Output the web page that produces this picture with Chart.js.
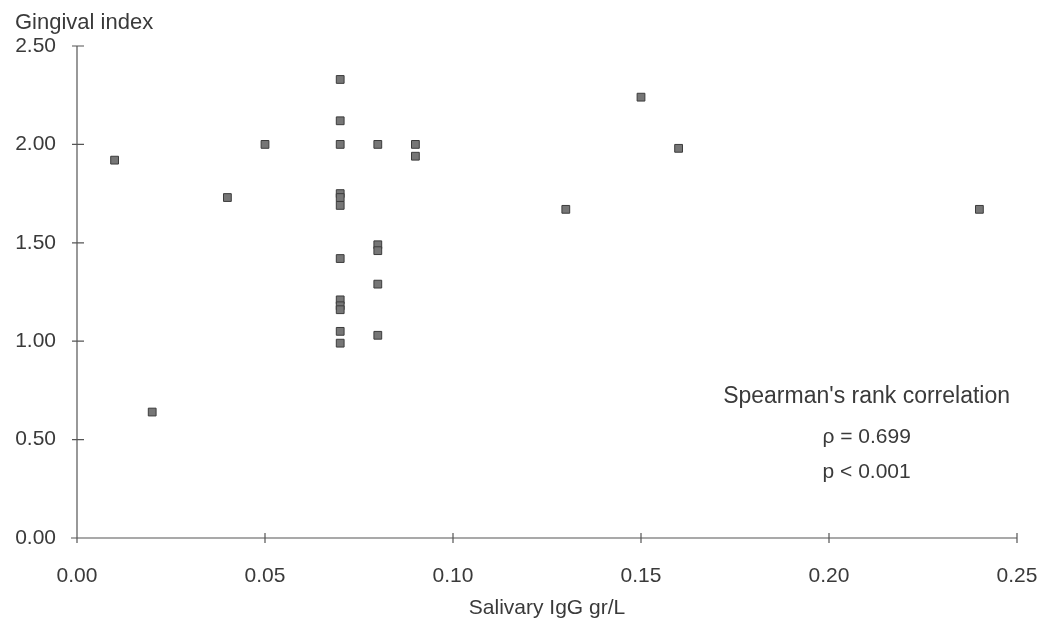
<!DOCTYPE html>
<html>
<head>
<meta charset="utf-8">
<script src="https://cdn.jsdelivr.net/npm/chart.js@4"></script>
<style>
  html, body { margin: 0; padding: 0; background: #fff; }
  #wrap { width: 1043px; height: 629px; }
</style>
</head>
<body>
<div id="wrap"><canvas id="scatterChart"></canvas></div>
<script>
// data
const igg = [0.01, 0.02, 0.04, 0.05,
    0.07, 0.07, 0.07, 0.07, 0.07, 0.07, 0.07, 0.07, 0.07, 0.07, 0.07, 0.07,
    0.08, 0.08, 0.08, 0.08, 0.08,
    0.09, 0.09, 0.13, 0.15, 0.16, 0.24];
const gingival = [1.92, 0.64, 1.73, 2.00,
    2.33, 2.12, 2.00, 1.75, 1.73, 1.69, 1.42, 1.21, 1.18, 1.16, 1.05, 0.99,
    2.00, 1.49, 1.46, 1.29, 1.03,
    2.00, 1.94, 1.67, 2.24, 1.98, 1.67];
const xTicks = ['0.00', '0.05', '0.10', '0.15', '0.20', '0.25'];
const yTicks = ['0.00', '0.50', '1.00', '1.50', '2.00', '2.50'];
const statLines = ["Spearman's rank correlation", 'ρ = 0.699', 'p < 0.001'];

const FONT = "'Liberation Sans', Arial, sans-serif";
const INK = '#3a3a3a';

// axis lines with ticks crossing them, like the original plot
const axesPlugin = {
    id: 'axesPlugin',
    afterDraw(chart) {
        const ctx = chart.ctx;
        const xs = chart.scales.x, ys = chart.scales.y;
        const area = chart.chartArea;
        ctx.save();
        ctx.strokeStyle = '#555';
        ctx.lineWidth = 1.2;
        ctx.beginPath();
        ctx.moveTo(area.left - 6, area.bottom);
        ctx.lineTo(area.right, area.bottom);
        ctx.moveTo(area.left, area.bottom);
        ctx.lineTo(area.left, area.top);
        xs.ticks.forEach(t => {
            const px = xs.getPixelForValue(t.value);
            ctx.moveTo(px, area.bottom - 5);
            ctx.lineTo(px, area.bottom + 5);
        });
        ys.ticks.forEach(t => {
            const py = ys.getPixelForValue(t.value);
            ctx.moveTo(area.left - 5, py);
            ctx.lineTo(area.left + 7, py);
        });
        ctx.stroke();

        ctx.fillStyle = INK;
        ctx.font = '22px ' + FONT;
        ctx.textAlign = 'left';
        ctx.textBaseline = 'middle';
        ctx.fillText('Gingival index', 15, 23);

        // stats note
        ctx.textAlign = 'center';
        const cx = xs.getPixelForValue(0.21);
        const rows = [0.718, 0.514, 0.336];
        statLines.forEach((s, i) => {
            ctx.font = (i === 0 ? '23px ' : '21px ') + FONT;
            ctx.fillText(s, cx, ys.getPixelForValue(rows[i]));
        });
        ctx.restore();
    }
};

const ctx = document.getElementById('scatterChart').getContext('2d');
new Chart(ctx, {
    type: 'scatter',
    data: {
        datasets: [{
            data: igg.map((v, i) => ({ x: v, y: gingival[i] })),
            pointStyle: 'rect',
            pointRadius: 5.5,
            backgroundColor: '#767676',
            borderColor: '#3c3c3c',
            borderWidth: 1
        }]
    },
    options: {
        responsive: true,
        maintainAspectRatio: false,
        animation: false,
        layout: { padding: { top: 46, right: 26, left: 0, bottom: 0 } },
        plugins: { legend: { display: false }, tooltip: { enabled: false } },
        scales: {
            x: {
                type: 'linear', min: 0, max: 0.25,
                grid: { display: false, drawTicks: false },
                border: { display: false },
                afterFit: s => { s.height = 91; s.paddingRight = 0; s.paddingLeft = 0; },
                ticks: {
                    stepSize: 0.05, padding: 26, color: INK,
                    font: { family: FONT, size: 21 },
                    callback: (v, i) => xTicks[i]
                },
                title: {
                    display: true, text: 'Salivary IgG gr/L', color: INK,
                    font: { family: FONT, size: 21 },
                    padding: { top: 0, bottom: 8 }
                }
            },
            y: {
                type: 'linear', min: 0, max: 2.5,
                grid: { display: false, drawTicks: false },
                border: { display: false },
                afterFit: s => { s.width = 77; s.paddingTop = 0; s.paddingBottom = 0; },
                ticks: {
                    stepSize: 0.5, padding: 21, color: INK,
                    font: { family: FONT, size: 21 },
                    callback: (v, i) => yTicks[i]
                }
            }
        }
    },
    plugins: [axesPlugin]
});
</script>
</body>
</html>
